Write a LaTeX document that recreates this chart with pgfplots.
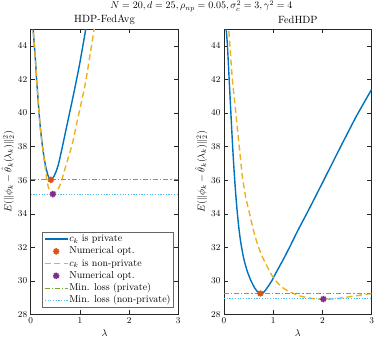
\documentclass[border=0pt]{standalone}
\usepackage{pgfplots}
\pgfplotsset{compat=1.18}

\definecolor{mblue}{rgb}{0,0.447,0.741}
\definecolor{morange}{rgb}{0.85,0.325,0.098}
\definecolor{myellow}{rgb}{0.929,0.694,0.125}
\definecolor{mpurple}{rgb}{0.494,0.184,0.556}
\definecolor{mgreen}{rgb}{0.466,0.674,0.188}
\definecolor{mcyan}{rgb}{0.301,0.745,0.933}
\definecolor{maxis}{rgb}{0.15,0.15,0.15}

% MATLAB-like '*' marker (8 arms)
\pgfdeclareplotmark{mstar}{%
  \pgfpathmoveto{\pgfqpoint{0pt}{\pgfplotmarksize}}%
  \pgfpathlineto{\pgfqpoint{0pt}{-\pgfplotmarksize}}%
  \pgfpathmoveto{\pgfqpoint{\pgfplotmarksize}{0pt}}%
  \pgfpathlineto{\pgfqpoint{-\pgfplotmarksize}{0pt}}%
  \pgfpathmoveto{\pgfqpoint{.707\pgfplotmarksize}{.707\pgfplotmarksize}}%
  \pgfpathlineto{\pgfqpoint{-.707\pgfplotmarksize}{-.707\pgfplotmarksize}}%
  \pgfpathmoveto{\pgfqpoint{-.707\pgfplotmarksize}{.707\pgfplotmarksize}}%
  \pgfpathlineto{\pgfqpoint{.707\pgfplotmarksize}{-.707\pgfplotmarksize}}%
  \pgfusepathqstroke}

\pgfplotsset{
  panel/.style={
    scale only axis, width=147.6pt, height=285.5pt,
    xmin=0, xmax=3, ymin=28, ymax=45,
    xtick={0,1,2,3}, ytick={28,30,...,44},
    axis line style={maxis, line width=0.4pt},
    tick style={maxis, line width=0.4pt},
    tick label style={font=\small},
    xlabel={$\lambda$},
    ylabel={$E(\|\phi_k-\hat{\theta}_k(\lambda_k)\|_2^2)$},
    ylabel style={at={(axis description cs:-0.155,0.5)}, anchor=center},
    xlabel style={at={(axis description cs:0.5,-0.065)}, anchor=center},
    title style={at={(axis description cs:0.5,1)}, anchor=center, yshift=3pt,
      font=\fontsize{10.5}{12}\selectfont},
    legend image code/.code={\draw[#1] (0cm,0cm) -- (0.8cm,0cm);},
  },
  priv/.style={mblue, line width=1.4pt, smooth, tension=0.4},
  nonpriv/.style={myellow, line width=1.4pt, smooth, tension=0.4, dash pattern=on 6pt off 3.5pt},
  opt/.style={only marks, mark=mstar, mark size=3.2pt, line width=1.5pt,
    legend image code/.code={\draw[##1] plot coordinates {(0.4cm,0cm)};}},
  minp/.style={mgreen, line width=0.9pt, dash pattern=on 5pt off 2pt on 1.2pt off 2pt},
  minnp/.style={mcyan, line width=0.9pt, dash pattern=on 1.2pt off 1.5pt},
}

\begin{document}
\begin{tikzpicture}
\begin{axis}[panel, name=left, title={HDP-FedAvg},
  legend style={font=\fontsize{10}{12}\selectfont, at={(0.966,0.025)}, anchor=south east,
    draw=black!60, inner sep=1.5pt, row sep=1.2pt,
    nodes={inner sep=1pt, text height=7pt, text depth=2pt}},
  legend cell align=left]
\addplot[priv] coordinates {
(0.03,46.5) (0.05,45) (0.075,44) (0.10,43) (0.12,42) (0.145,41) (0.175,39.8)
(0.20,39) (0.24,38) (0.28,37.2) (0.31,36.75) (0.35,36.3) (0.38,36.1) (0.41,36.02)
(0.45,36.12) (0.50,36.4) (0.56,36.9) (0.63,37.8) (0.71,38.9) (0.79,40) (0.87,41.1)
(0.94,42.1) (1.0,43) (1.06,44) (1.12,45) (1.18,46)};
\addlegendentry{$c_k$ is private}
\addplot[opt, morange] coordinates {(0.41,36.02)};
\addlegendentry{Numerical opt.}
\addplot[nonpriv] coordinates {
(0.03,46.5) (0.05,45) (0.075,44) (0.10,43) (0.12,42) (0.145,41) (0.175,39.8)
(0.20,39) (0.24,38) (0.28,37.1) (0.31,36.4) (0.34,35.8) (0.38,35.4) (0.42,35.23)
(0.45,35.2) (0.52,35.3) (0.58,35.6) (0.63,36) (0.71,36.8) (0.78,37.5) (0.85,38.2)
(0.93,39.3) (1.02,40.5) (1.10,41.6) (1.17,42.8) (1.23,43.9) (1.29,45) (1.34,46)};
\addlegendentry{$c_k$ is non-private}
\addplot[opt, mpurple] coordinates {(0.45,35.17)};
\addlegendentry{Numerical opt.}
\addplot[minp] coordinates {(0,36.05) (3,36.05)};
\addlegendentry{Min. loss (private)}
\addplot[minnp] coordinates {(0,35.17) (3,35.17)};
\addlegendentry{Min. loss (non-private)}
\end{axis}

\begin{axis}[panel, name=right, at={(193.3pt,0)}, title={FedHDP}]
\addplot[priv] coordinates {
(0.02,46.5) (0.04,45.2) (0.07,44) (0.105,42) (0.14,40) (0.17,38.3) (0.20,36.8)
(0.23,35.5) (0.26,34.4) (0.30,33.2) (0.34,32.3) (0.40,31.35) (0.47,30.6) (0.55,30.0)
(0.63,29.55) (0.70,29.3) (0.74,29.23) (0.81,29.33) (0.88,29.6) (0.97,30.0) (1.05,30.45)
(1.2,31.25) (1.34,32.05) (1.5,33.0) (1.68,34.0) (2.02,35.95) (2.32,37.7) (2.68,39.75) (3.0,41.4)};
\addplot[opt, morange] coordinates {(0.74,29.25)};
\addplot[nonpriv] coordinates {
(0.07,46) (0.09,45.2) (0.12,44) (0.17,42) (0.24,40) (0.31,38) (0.37,36.3)
(0.44,35) (0.52,34) (0.60,33) (0.68,32.2) (0.77,31.5) (0.87,30.9) (1.0,30.2)
(1.15,29.7) (1.3,29.4) (1.55,29.1) (1.8,28.95) (2.0,28.9) (2.3,28.95) (2.65,29.1) (3.0,29.25)};
\addplot[opt, mpurple] coordinates {(2.02,28.92)};
\addplot[minp] coordinates {(0,29.25) (3,29.25)};
\addplot[minnp] coordinates {(0,28.93) (3,28.93)};
\end{axis}

\node[font=\fontsize{10}{12}\selectfont, anchor=center] at (170.65pt,308.3pt)
  {$N=20, d=25, \rho_{np}=0.05, \sigma_c^2=3, \gamma^2=4$};

\pgfresetboundingbox
\useasboundingbox (-30.7pt,-26.5pt) rectangle (343.3pt,314.5pt);
\end{tikzpicture}
\end{document}
